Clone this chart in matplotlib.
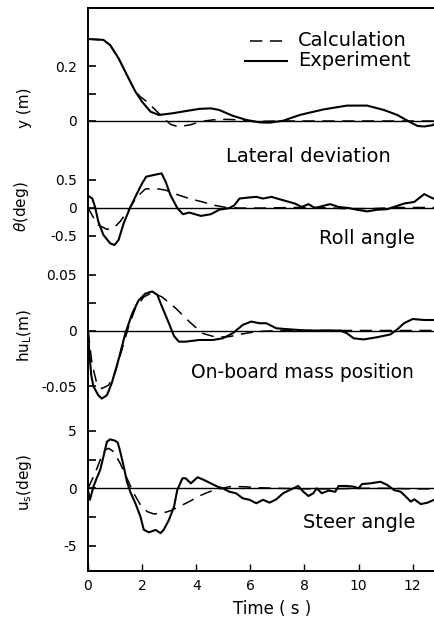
import numpy as np
import matplotlib
matplotlib.use("Agg")
import matplotlib.pyplot as plt

# ---- dados ----
# deslocamento lateral y (m)
t_y_exp = [0, 0.57, 0.82, 1.13, 1.44, 1.75, 2.0, 2.31, 2.62, 3.12, 3.61, 4.11, 4.54, 4.85, 5.35,
           5.85, 6.34, 6.72, 7.21, 7.83, 8.7, 9.57, 10.32, 10.94, 11.43, 11.87, 12.18, 12.43, 12.74, 12.92]
y_exp = [0.298, 0.295, 0.276, 0.228, 0.167, 0.107, 0.07, 0.034, 0.022, 0.028, 0.036, 0.044, 0.046, 0.04, 0.019,
         0.004, -0.005, -0.006, 0.001, 0.022, 0.042, 0.056, 0.056, 0.04, 0.022, -0.002, -0.018, -0.02, -0.015, -0.003]
t_y_calc = [0, 0.57, 0.82, 1.13, 1.44, 1.75, 1.94, 2.18, 2.37, 2.8, 3.05, 3.3, 3.74, 4.17, 4.6, 5.1,
            5.6, 6.1, 7.0, 8.0, 9.0, 10.0, 11.0, 12.0, 12.9]
y_calc = [0.298, 0.295, 0.276, 0.228, 0.167, 0.107, 0.088, 0.07, 0.052, 0.01, -0.012, -0.02, -0.015, -0.002, 0.004, 0.006,
          0.004, -0.002, 0.0, 0.0, 0.0, 0.0, 0.0, 0.0, 0.0]

# ângulo de rolagem theta (deg)
t_roll_exp = [0.0, 0.16, 0.26, 0.38, 0.57, 0.82, 0.98, 1.13, 1.32, 1.56, 1.81, 2.0, 2.15, 2.43, 2.72, 2.87,
              3.05, 3.3, 3.51, 3.74, 4.17, 4.54, 4.85, 5.23, 5.41, 5.6, 5.97, 6.22, 6.47, 6.78, 7.21, 7.65,
              7.9, 8.15, 8.39, 8.7, 8.95, 9.26, 9.64, 9.94, 10.32, 10.69, 11.06, 11.31, 11.68, 12.06, 12.43,
              12.67, 12.92]
roll_exp = [0.21, 0.16, 0.01, -0.25, -0.49, -0.64, -0.67, -0.58, -0.28, 0.0, 0.25, 0.43, 0.55, 0.58, 0.61, 0.46,
            0.22, -0.01, -0.12, -0.09, -0.15, -0.12, -0.04, -0.01, 0.04, 0.16, 0.18, 0.19, 0.16, 0.19, 0.13, 0.07,
            0.01, 0.06, -0.01, 0.03, 0.06, 0.01, -0.01, -0.04, -0.07, -0.04, -0.03, 0.01, 0.07, 0.1, 0.24,
            0.18, 0.13]
t_roll_calc = [0, 0.14, 0.38, 0.7, 0.94, 1.19, 1.5, 1.81, 2.12, 2.5, 2.87, 3.24, 3.74, 4.23, 4.67, 5.1,
               5.6, 6.5, 7.5, 8.5, 9.5, 10.5, 11.5, 12.9]
roll_calc = [0.0, -0.13, -0.31, -0.39, -0.37, -0.25, -0.04, 0.19, 0.33, 0.34, 0.31, 0.24, 0.16, 0.1, 0.04, 0.0,
             -0.01, -0.01, 0.0, 0.0, -0.02, -0.02, 0.0, 0.0]

# posição da massa embarcada hu_L (m)
t_mass_exp = [0, 0.05, 0.12, 0.2, 0.38, 0.51, 0.7, 0.88, 1.13, 1.38, 1.63, 1.87, 2.12, 2.37, 2.56, 2.74,
              2.99, 3.18, 3.36, 3.61, 4.11, 4.61, 4.98, 5.35, 5.72, 6.03, 6.34, 6.59, 6.96, 7.46, 8.08,
              8.7, 9.32, 9.57, 9.82, 10.19, 10.69, 11.18, 11.43, 11.68, 12.0, 12.43, 12.92]
mass_exp = [0.0, -0.02, -0.04, -0.05, -0.058, -0.061, -0.058, -0.047, -0.026, -0.0025, 0.015, 0.027, 0.033, 0.035, 0.032, 0.021,
            0.0065, -0.005, -0.01, -0.01, -0.0085, -0.0085, -0.007, -0.0025, 0.005, 0.008, 0.0065, 0.0065, 0.002, 0.001, 0.0,
            0.0, 0.0, -0.0025, -0.007, -0.008, -0.006, -0.0035, 0.001, 0.0065, 0.0103, 0.0094, 0.0094]
t_mass_calc = [0, 0.15, 0.32, 0.51, 0.76, 1.0, 1.25, 1.5, 1.75, 2.06, 2.37, 2.74, 3.24, 3.74, 4.23, 4.73,
               5.23, 5.72, 6.22, 7.0, 8.0, 9.0, 10.0, 11.0, 12.0, 12.9]
mass_calc = [0.0, -0.03, -0.047, -0.052, -0.049, -0.038, -0.0175, 0.0034, 0.02, 0.03, 0.034, 0.03, 0.02, 0.008, -0.0025, -0.006,
             -0.0055, -0.003, -0.001, 0, 0, 0, 0, 0, 0, 0]

# ângulo de esterçamento u_s (deg)
t_steer_exp = [0, 0.07, 0.14, 0.2, 0.32, 0.45, 0.57, 0.7, 0.82, 1.0, 1.1, 1.19, 1.32, 1.44, 1.56, 1.75,
               1.94, 2.06, 2.25, 2.5, 2.68, 2.8, 2.99, 3.18, 3.3, 3.49, 3.61, 3.8, 4.05, 4.29, 4.54, 4.79,
               4.98, 5.23, 5.47, 5.72, 5.97, 6.22, 6.47, 6.71, 6.96, 7.21, 7.46, 7.77, 7.96, 8.15, 8.33,
               8.45, 8.64, 8.89, 9.14, 9.26, 9.57, 9.82, 10.0, 10.13, 10.44, 10.81, 11.06, 11.31, 11.56,
               11.81, 11.93, 12.06, 12.3, 12.55, 12.92]
steer_exp = [-0.15, -1.0, -0.4, 0.14, 0.87, 1.6, 2.75, 4.05, 4.26, 4.14, 3.97, 3.2, 1.9, 0.57, -0.3, -1.3,
             -2.47, -3.6, -3.83, -3.62, -3.9, -3.6, -2.75, -1.6, -0.15, 0.87, 0.87, 0.43, 0.96, 0.72, 0.43, 0.14,
             0.0, -0.3, -0.43, -0.87, -1.0, -1.3, -1.0, -1.25, -0.96, -0.43, -0.15, 0.2, -0.3, -0.67, -0.43,
             0.0, -0.43, -0.2, -0.3, 0.2, 0.2, 0.14, 0.0, 0.37, 0.43, 0.57, 0.29, -0.15, -0.3,
             -0.87, -1.16, -0.96, -1.37, -1.25, -0.87]
t_steer_calc = [0, 0.26, 0.45, 0.63, 0.76, 0.94, 1.19, 1.44, 1.69, 1.94, 2.19, 2.43, 2.74, 3.05, 3.36, 3.74,
                4.11, 4.48, 4.85, 5.23, 5.72, 6.34, 7.0, 8.0, 9.0, 10.0, 11.0, 12.0, 12.9]
steer_calc = [0, 1.3, 2.46, 3.33, 3.48, 3.2, 2.17, 0.87, -0.43, -1.45, -2.03, -2.23, -2.17, -1.95, -1.6, -1.16,
              -0.67, -0.3, -0.06, 0.14, 0.14, 0.05, 0.0, -0.05, -0.05, 0.0, 0.0, -0.05, -0.05]

x_ticks = [0, 2, 4, 6, 8, 10, 12]

# ---- layout (pixels da imagem 435x624) ----
W, H = 435, 624
top_px, bot_px, left_px = 8, 571, 88

def fx(x):
    return x / W

def fy(y):
    return 1 - y / H

fig = plt.figure(figsize=(W / 100, H / 100), dpi=100)
pos = [fx(left_px), fy(bot_px), fx(W + 2 - left_px), (bot_px - top_px) / H]

ax0 = fig.add_axes(pos)
ax0.set_xlim(0, 12.9)
ax0.set_ylim(0, 1)
ax0.set_yticks([])
ax0.set_xticks(x_ticks)
ax0.tick_params(axis="x", direction="in", length=5, width=1, labelsize=10, pad=6)
for s in ["top", "left", "bottom"]:
    ax0.spines[s].set_linewidth(1.4)
ax0.spines["right"].set_visible(False)

dash = dict(color="black", lw=1.1, dashes=(8, 5))
solid = dict(color="black", lw=1.5)

# cada painel: (zero em px, px por unidade, ticks, ticks menores, rótulos)
paineis = [
    (121, 275, t_y_exp, y_exp, t_y_calc, y_calc, [0, 0.2], ["0", "0.2"], [0.1]),
    (207.5, 56, t_roll_exp, roll_exp, t_roll_calc, roll_calc, [-0.5, 0, 0.5], ["-0.5", "0", "0.5"], []),
    (330.5, 1116, t_mass_exp, mass_exp, t_mass_calc, mass_calc, [-0.05, 0, 0.05], ["-0.05", "0", "0.05"], [0.025]),
    (488.3, 11.5, t_steer_exp, steer_exp, t_steer_calc, steer_calc, [-5, 0, 5], ["-5", "0", "5"], [-2.5, 2.5]),
]

for z, k, te, ve, tc, vc, ticks, labels, minor in paineis:
    ax = fig.add_axes(pos, sharex=ax0)
    ax.patch.set_visible(False)
    for s in ax.spines.values():
        s.set_visible(False)
    ax.set_ylim((z - bot_px) / k, (z - top_px) / k)
    ax.axhline(0, color="black", lw=1.0)
    ax.plot(tc, vc, **dash)
    ax.plot(te, ve, **solid)
    ax.set_yticks(ticks)
    ax.set_yticklabels(labels)
    ax.set_yticks(minor, minor=True)
    ax.tick_params(axis="y", which="both", direction="in", length=6, width=1.2, labelsize=10, pad=8)
    ax.tick_params(axis="x", bottom=False, labelbottom=False)

# rótulos dos eixos y
fig.text(fx(25), fy(108), "y (m)", rotation=90, ha="center", va="center", fontsize=11)
fig.text(fx(22), fy(207), r"$\theta$(deg)", rotation=90, ha="center", va="center", fontsize=11)
fig.text(fx(25), fy(335), r"hu$_\mathrm{L}$(m)", rotation=90, ha="center", va="center", fontsize=11)
fig.text(fx(25), fy(482), r"u$_\mathrm{s}$(deg)", rotation=90, ha="center", va="center", fontsize=11)

# nomes dos painéis
fig.text(fx(226), fy(157), "Lateral deviation", ha="left", va="center", fontsize=14)
fig.text(fx(415), fy(238), "Roll angle", ha="right", va="center", fontsize=14)
fig.text(fx(414), fy(372), "On-board mass position", ha="right", va="center", fontsize=13.5)
fig.text(fx(415), fy(523), "Steer angle", ha="right", va="center", fontsize=14)

# legenda
fig.add_artist(plt.Line2D([fx(250), fx(287)], [fy(41), fy(41)], **dash))
fig.add_artist(plt.Line2D([fx(245), fx(287)], [fy(61), fy(61)], **solid))
fig.text(fx(298), fy(41), "Calculation", ha="left", va="center", fontsize=14)
fig.text(fx(298), fy(61), "Experiment", ha="left", va="center", fontsize=14)

fig.text(fx(272), fy(609), "Time ( s )", ha="center", va="center", fontsize=12)

fig.savefig("out.png", dpi=100)
